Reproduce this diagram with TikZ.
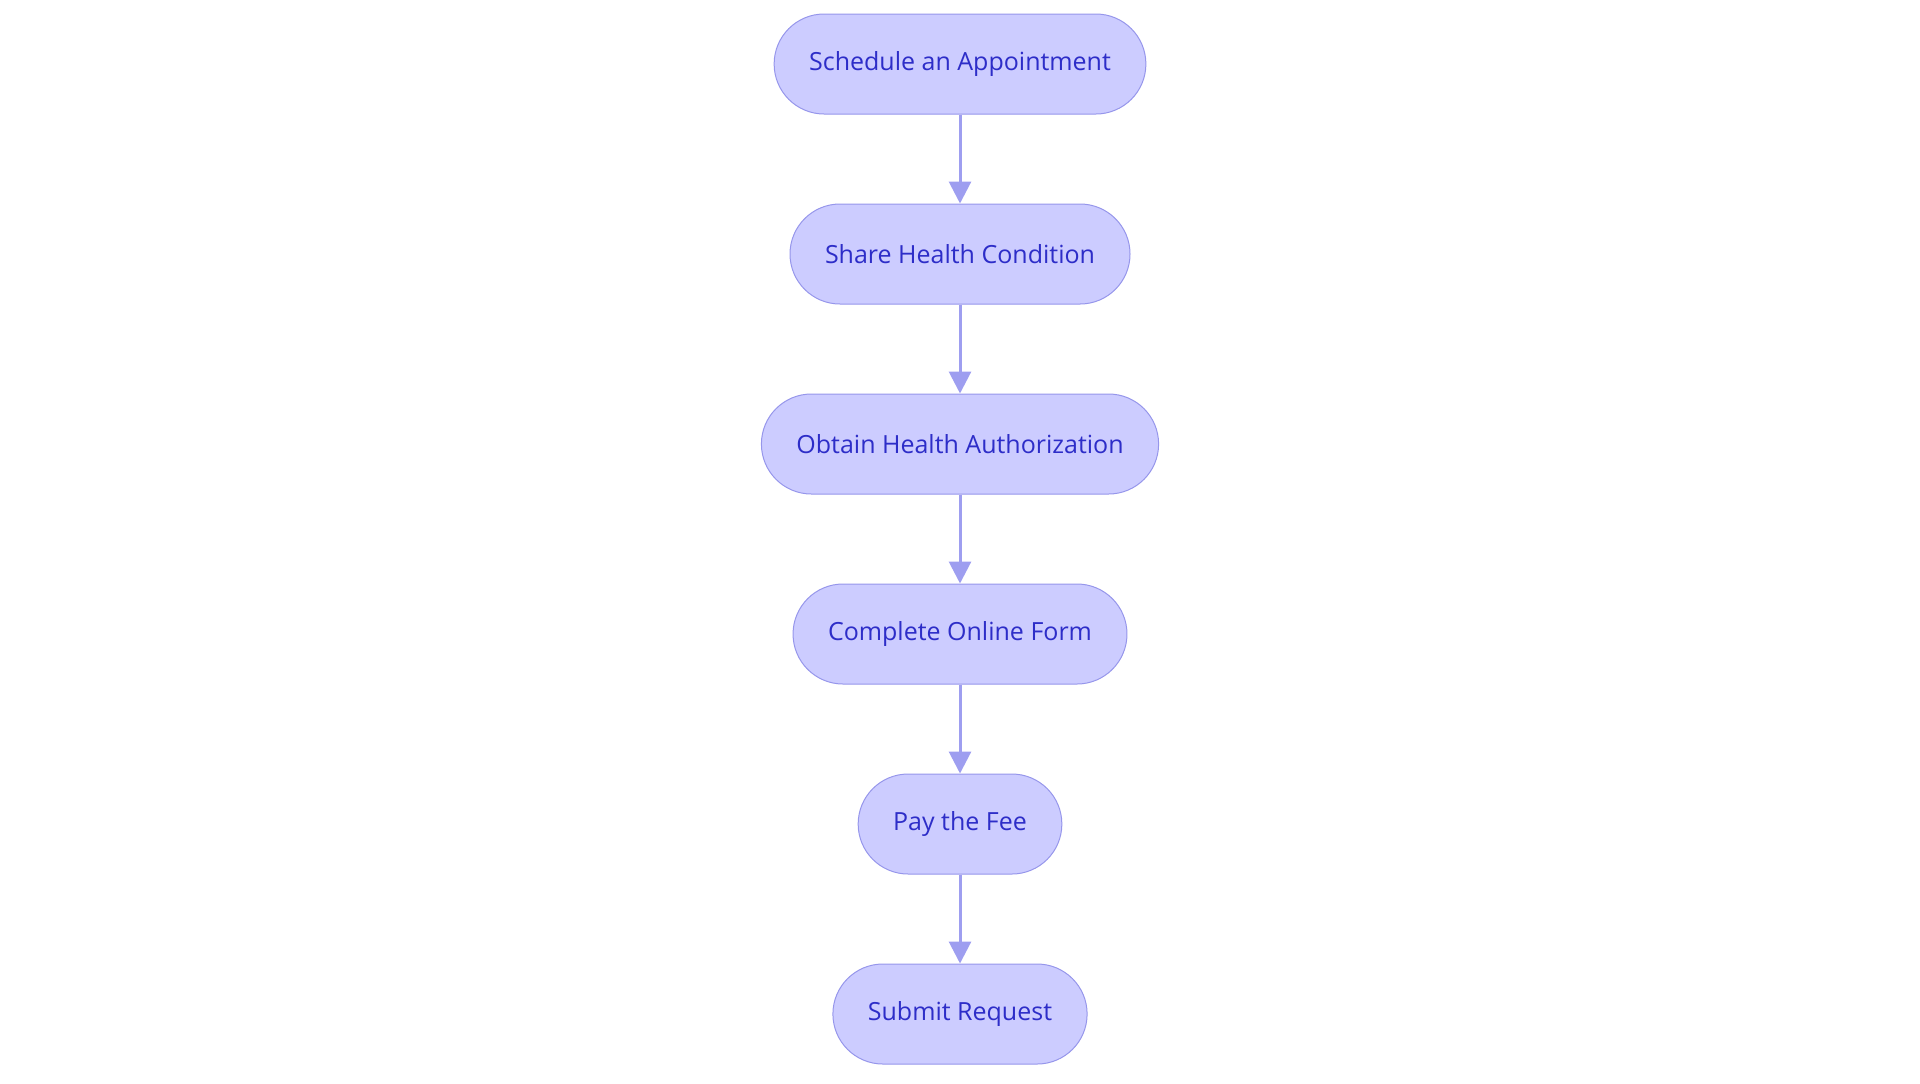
\documentclass[tikz,border=0pt]{standalone}
\usepackage{fontspec}
\setmainfont{Open Sans}
\usetikzlibrary{positioning,arrows.meta}
\definecolor{StepFill}{RGB}{204,204,255}
\definecolor{StepLine}{RGB}{150,150,235}
\definecolor{StepText}{RGB}{45,45,200}
\definecolor{FlowClr}{RGB}{158,158,240}

\begin{document}
\begin{tikzpicture}[
  stepbox/.style={rectangle,rounded corners=25pt,minimum height=50pt,
    inner xsep=17.5pt,fill=StepFill,draw=StepLine,line width=0.5pt,
    text=StepText,font=\fontsize{12.5}{15}\selectfont},
  flow/.style={-{Triangle[length=11pt,width=11pt]},line width=1.5pt,color=FlowClr},
  node distance=44.5pt]
\useasboundingbox (0,0) rectangle (960pt,-541.5pt);

\node[stepbox] (sched) at (480pt,-32pt) {Schedule an Appointment};
\node[stepbox,below=of sched] (share) {Share Health Condition};
\node[stepbox,below=of share] (auth) {Obtain Health Authorization};
\node[stepbox,below=of auth] (form) {Complete Online Form};
\node[stepbox,below=of form] (fee) {Pay the Fee};
\node[stepbox,below=of fee] (submit) {Submit Request};

\draw[flow] (sched) -- (share);
\draw[flow] (share) -- (auth);
\draw[flow] (auth) -- (form);
\draw[flow] (form) -- (fee);
\draw[flow] (fee) -- (submit);

\end{tikzpicture}
\end{document}
